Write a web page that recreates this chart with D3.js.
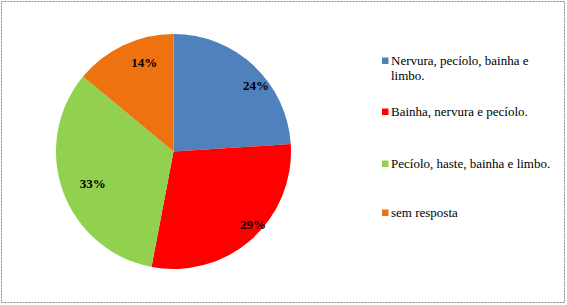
<!DOCTYPE html>
<html>
<head>
<meta charset="utf-8">
<script src="https://cdn.jsdelivr.net/npm/d3@7"></script>
<style>
  html, body { margin: 0; padding: 0; background: #fff; }
  svg { display: block; }
</style>
</head>
<body>
<div id="chart"></div>
<script>
// pie of answers (share of responses) with legend on the right
const categories = [
    "Nervura, pecíolo, bainha e limbo.",
    "Bainha, nervura e pecíolo.",
    "Pecíolo, haste, bainha e limbo.",
    "sem resposta"
];
const values = [24, 29, 33, 14];
const legendLines = [
    ["Nervura, pecíolo, bainha e", "limbo."],
    ["Bainha, nervura e pecíolo."],
    ["Pecíolo, haste, bainha e limbo."],
    ["sem resposta"]
];
const colors = ["#4F81BD", "#FF0000", "#92D050", "#EE7210"];

const width = 567, height = 305;
const cx = 173.5, cy = 151.5, radius = 117.5;
const serif = "'Liberation Serif', 'Times New Roman', serif";

// label placement per slice: [angle shift (deg), radius fraction]
const labelTweak = [[8, 0.90], [-6, 0.92], [-2, 0.74], [7, 0.80]];

const svg = d3.select("#chart")
    .append("svg")
    .attr("width", width)
    .attr("height", height);

svg.append("rect")
    .attr("width", width).attr("height", height)
    .attr("fill", "#fff");

// dotted frame
svg.append("rect")
    .attr("x", 1.5).attr("y", 1.5)
    .attr("width", width - 4).attr("height", height - 4)
    .attr("fill", "none")
    .attr("stroke", "#8a8a8a")
    .attr("stroke-width", 1)
    .attr("stroke-dasharray", "2,1");

const pie = d3.pie().sort(null).value(d => d)(values);
const arc = d3.arc().innerRadius(0).outerRadius(radius);

const g = svg.append("g").attr("transform", `translate(${cx},${cy})`);

g.selectAll("path.slice")
    .data(pie)
    .join("path")
    .attr("class", "slice")
    .attr("d", arc)
    .attr("fill", (d, i) => colors[i]);

function labelAngle(d, i) {
    return (d.startAngle + d.endAngle) / 2 + labelTweak[i][0] * Math.PI / 180;
}

g.selectAll("text.lbl")
    .data(pie)
    .join("text")
    .attr("class", "lbl")
    .attr("x", (d, i) => Math.sin(labelAngle(d, i)) * radius * labelTweak[i][1])
    .attr("y", (d, i) => -Math.cos(labelAngle(d, i)) * radius * labelTweak[i][1])
    .attr("dy", "0.35em")
    .attr("text-anchor", "middle")
    .attr("font-family", serif)
    .attr("font-size", 13)
    .attr("font-weight", "bold")
    .attr("fill", "#000")
    .text(d => d.value + "%");

// legend
const legendY = [65, 116, 168, 217];
const leg = svg.append("g")
    .attr("font-family", serif)
    .attr("font-size", 13)
    .attr("fill", "#000");

legendLines.forEach((lines, i) => {
    leg.append("rect")
        .attr("x", 382).attr("y", legendY[i] - 7.5)
        .attr("width", 6.5).attr("height", 6.5)
        .attr("fill", colors[i]);
    lines.forEach((t, j) => {
        leg.append("text")
            .attr("x", 391)
            .attr("y", legendY[i] + j * 15)
            .text(t);
    });
});
</script>
</body>
</html>
